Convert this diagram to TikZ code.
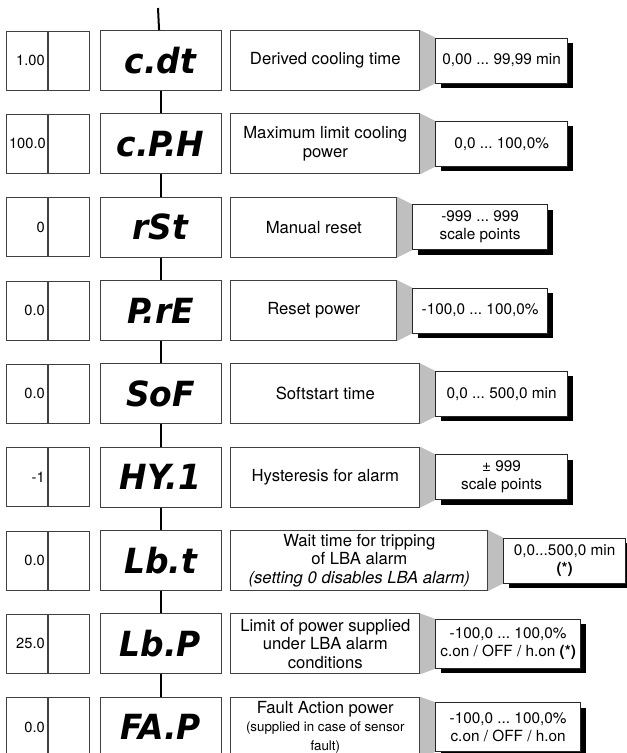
\documentclass[tikz,border=0pt]{standalone}
\usepackage{fontspec}
\setmainfont{TeX Gyre Heros}
\newfontfamily\segfont{DejaVu Sans}
\usetikzlibrary{positioning,shadows,backgrounds}
\frenchspacing
\newcommand\seg[1]{\scalebox{0.95}[1]{#1}}
\newcommand\smalltxt{\fontsize{10}{12}\selectfont}
\tikzset{
disp/.style={rectangle, minimum width=90.75pt, minimum height=45pt, inner sep=0pt, draw=black!75, fill=white, line width=0.6pt, font=\segfont\bfseries\itshape\fontsize{26}{26}\selectfont},
blank/.style={rectangle, minimum width=30.75pt, minimum height=44.25pt, draw=black!75, line width=0.6pt},
val/.style={blank, text width=26.75pt, inner sep=2pt, align=right, font=\fontsize{11}{13}\selectfont},
desc/.style={rectangle, minimum height=45pt, inner sep=2pt, minimum width=141.75pt, align=center, draw=black!75, fill=white, line width=0.6pt, font=\fontsize{12.5}{14}\selectfont},
limits/.style={rectangle, minimum height=33.75pt, inner sep=2pt, minimum width=99pt, align=center, draw=black!85, fill=white, line width=0.6pt, font=\fontsize{11.5}{13.5}\selectfont,
  drop shadow={shadow xshift=3.75pt, shadow yshift=-3.75pt, fill=black, opacity=1}},
wedge/.style={fill=black!25},
spine/.style={line width=1.5pt}}

\begin{document}
\begin{tikzpicture}[x=0.75pt, y=0.75pt]
\useasboundingbox (0,0) rectangle (627,-753);
\coordinate (top) at (158,-8);
\node (disp1) [disp] at (160.5,-60.5) {\seg{c.dt}};
\node (disp2) [disp, below of=disp1, node distance=62.5pt] {\seg{c.P.H}};
\node (disp3) [disp, below of=disp2, node distance=62.5pt] {\seg{rSt}};
\node (disp4) [disp, below of=disp3, node distance=62.5pt] {\seg{P.rE}};
\node (disp5) [disp, below of=disp4, node distance=62.5pt] {\seg{SoF}};
\node (disp6) [disp, below of=disp5, node distance=62.5pt] {\seg{HY.1}};
\node (disp7) [disp, below of=disp6, node distance=62.5pt] {\seg{Lb.t}};
\node (disp8) [disp, below of=disp7, node distance=62.5pt] {\seg{Lb.P}};
\node (disp9) [disp, below of=disp8, node distance=62.5pt] {\seg{FA.P}};

\node (blank1) [blank, left=7.5pt of disp1] {};
\node (blank2) [blank, left=7.5pt of disp2] {};
\node (blank3) [blank, left=7.5pt of disp3] {};
\node (blank4) [blank, left=7.5pt of disp4] {};
\node (blank5) [blank, left=7.5pt of disp5] {};
\node (blank6) [blank, left=7.5pt of disp6] {};
\node (blank7) [blank, left=7.5pt of disp7] {};
\node (blank8) [blank, left=7.5pt of disp8] {};
\node (blank9) [blank, left=7.5pt of disp9] {};

\node (val1) [val, left=0pt of blank1] {1.00};
\node (val2) [val, left=0pt of blank2] {100.0};
\node (val3) [val, left=0pt of blank3] {0};
\node (val4) [val, left=0pt of blank4] {0.0};
\node (val5) [val, left=0pt of blank5] {0.0};
\node (val6) [val, left=0pt of blank6] {-1};
\node (val7) [val, left=0pt of blank7] {0.0};
\node (val8) [val, left=0pt of blank8] {25.0};
\node (val9) [val, left=0pt of blank9] {0.0};

\node (desc1) [desc, right=6.75pt of disp1] {Derived cooling time};
\node (desc2) [desc, right=6.75pt of disp2] {Maximum limit cooling\\power};
\node (desc3) [desc, right=6.75pt of disp3, minimum width=124.5pt] {Manual reset};
\node (desc4) [desc, right=6.75pt of disp4, minimum width=124.5pt] {Reset power};
\node (desc5) [desc, right=6.75pt of disp5] {Softstart time};
\node (desc6) [desc, right=6.75pt of disp6] {Hysteresis for alarm};
\node (desc7) [desc, right=6.75pt of disp7, minimum width=192.75pt] {Wait time for tripping\\of LBA alarm\\\itshape (setting 0 disables LBA alarm)};
\node (desc8) [desc, right=6.75pt of disp8] {Limit of power supplied\\under LBA alarm\\conditions};
\node (desc9) [desc, right=6.75pt of disp9] {Fault Action power\\\smalltxt (supplied in case of sensor\\\smalltxt fault)};

\node (lim1) [limits, right=11.25pt of desc1] {0,00 ... 99,99 min};
\node (lim2) [limits, right=11.25pt of desc2] {0,0 ... 100,0\%};
\node (lim3) [limits, right=11.25pt of desc3, minimum width=101.25pt] {-999 ... 999\\scale points};
\node (lim4) [limits, right=11.25pt of desc4, minimum width=101.25pt] {-100,0 ... 100,0\%};
\node (lim5) [limits, right=11.25pt of desc5] {0,0 ... 500,0 min};
\node (lim6) [limits, right=11.25pt of desc6] {± 999\\scale points};
\node (lim7) [limits, right=11.25pt of desc7, minimum width=91.5pt] {0,0...500,0 min\\\textbf{(*)}};
\node (lim8) [limits, right=11.25pt of desc8, minimum width=108.75pt, minimum height=36.75pt] {-100,0 ... 100,0\%\\c.on / OFF / h.on \textbf{(*)}};
\node (lim9) [limits, right=11.25pt of desc9, minimum width=108.75pt, minimum height=36.75pt] {-100,0 ... 100,0\%\\c.on / OFF / h.on};

\draw [spine] (top) -- (disp1);
\draw [spine] (disp1) -- (disp2);
\draw [spine] (disp2) -- (disp3);
\draw [spine] (disp3) -- (disp4);
\draw [spine] (disp4) -- (disp5);
\draw [spine] (disp5) -- (disp6);
\draw [spine] (disp6) -- (disp7);
\draw [spine] (disp7) -- (disp8);
\draw [spine] (disp8) -- (disp9);

\begin{scope}[on background layer]
\fill [wedge] (desc1.north east) -- (lim1.north west) -- (lim1.south west) -- (desc1.south east) -- cycle;
\fill [wedge] (desc2.north east) -- (lim2.north west) -- (lim2.south west) -- (desc2.south east) -- cycle;
\fill [wedge] (desc3.north east) -- (lim3.north west) -- (lim3.south west) -- (desc3.south east) -- cycle;
\fill [wedge] (desc4.north east) -- (lim4.north west) -- (lim4.south west) -- (desc4.south east) -- cycle;
\fill [wedge] (desc5.north east) -- (lim5.north west) -- (lim5.south west) -- (desc5.south east) -- cycle;
\fill [wedge] (desc6.north east) -- (lim6.north west) -- (lim6.south west) -- (desc6.south east) -- cycle;
\fill [wedge] (desc7.north east) -- (lim7.north west) -- (lim7.south west) -- (desc7.south east) -- cycle;
\fill [wedge] (desc8.north east) -- (lim8.north west) -- (lim8.south west) -- (desc8.south east) -- cycle;
\fill [wedge] (desc9.north east) -- (lim9.north west) -- (lim9.south west) -- (desc9.south east) -- cycle;
\end{scope}
\end{tikzpicture}
\end{document}
